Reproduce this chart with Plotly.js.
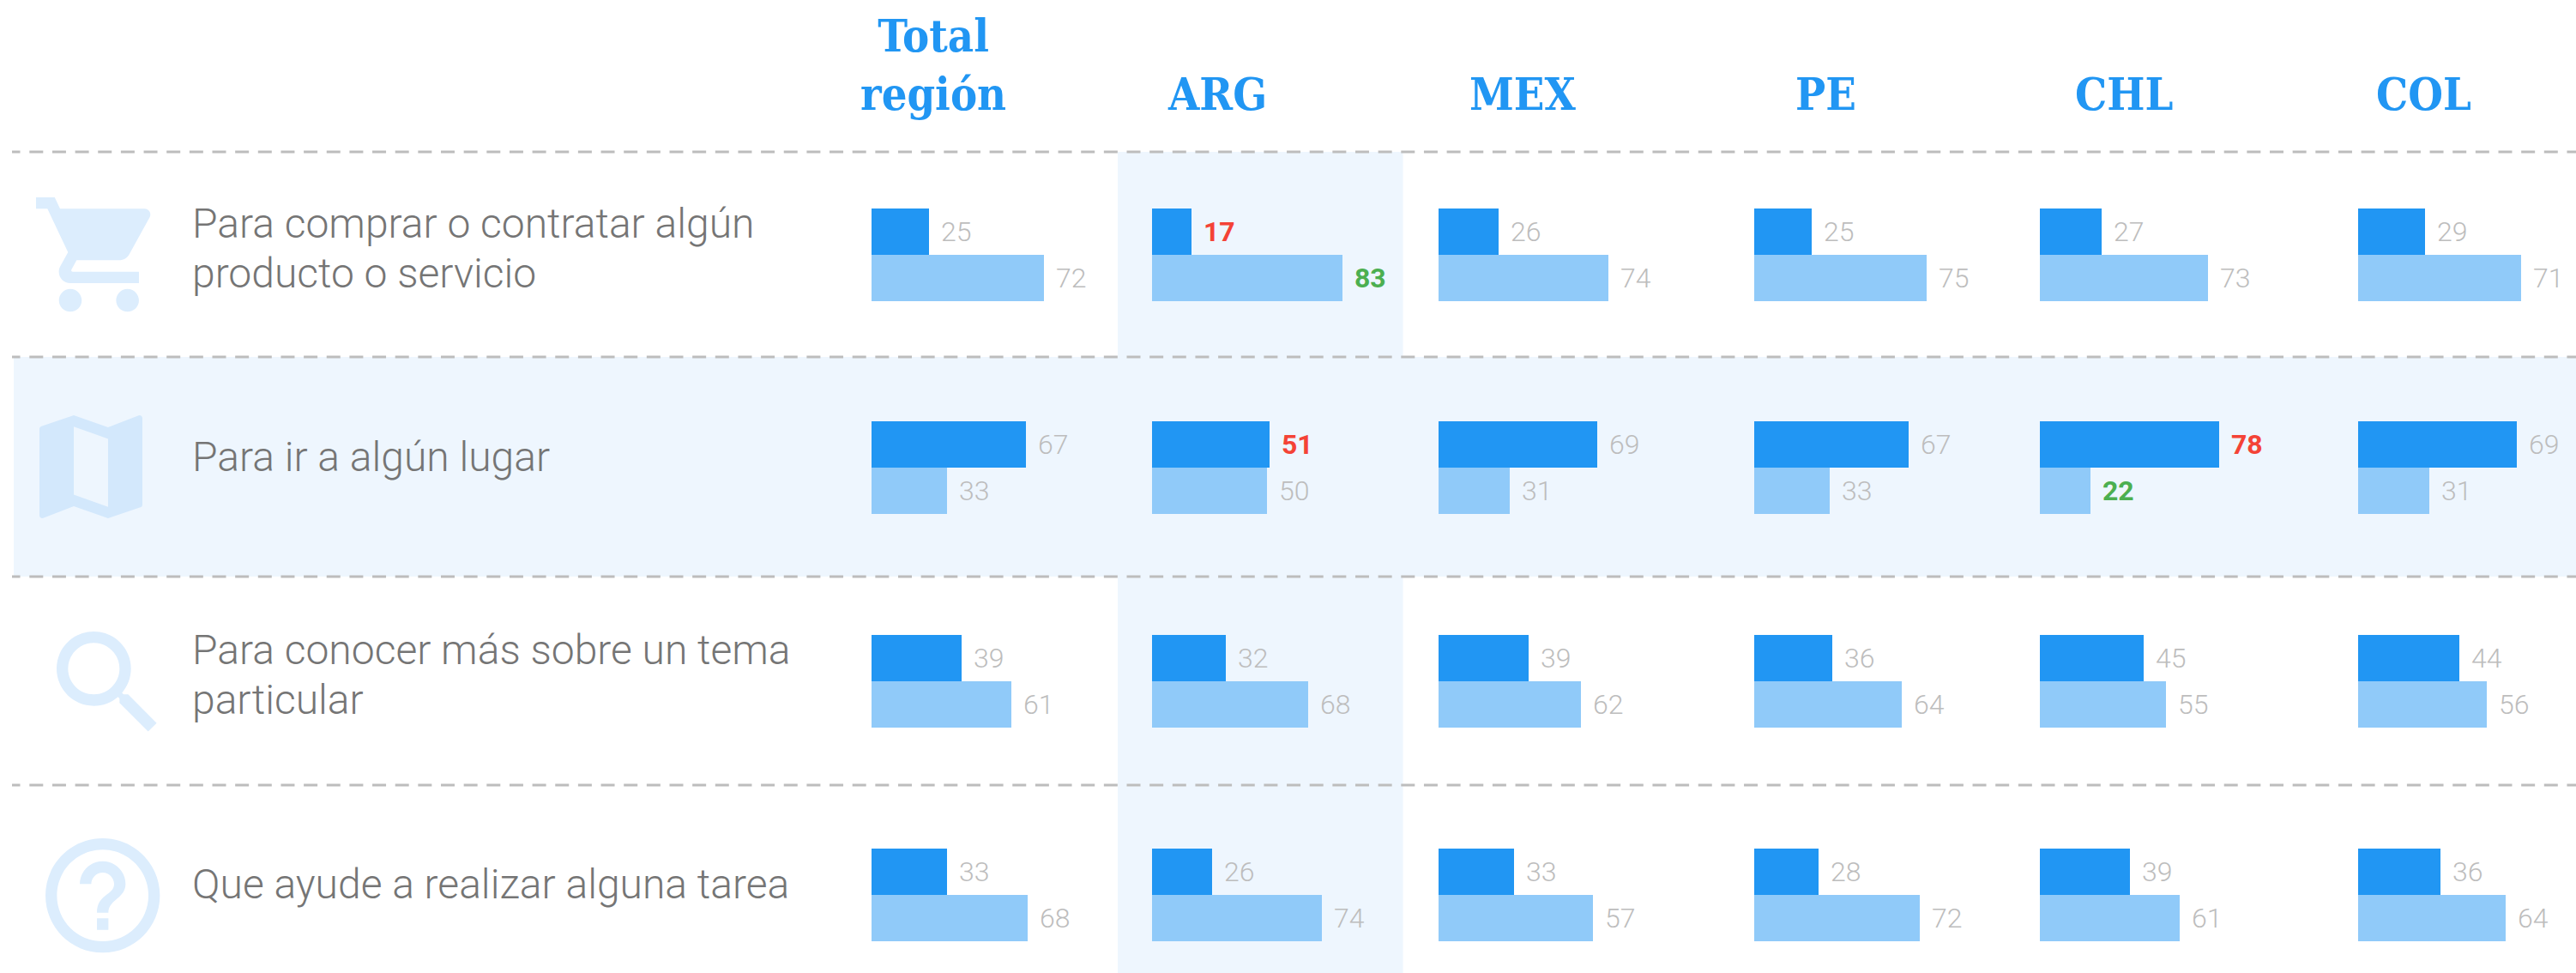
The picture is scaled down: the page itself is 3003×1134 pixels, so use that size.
<!DOCTYPE html>
<html>
<head>
<meta charset="utf-8">
<script src="https://cdn.plot.ly/plotly-3.0.1.min.js"></script>
<style>html,body{margin:0;padding:0;background:#fff}#chart{width:3003px;height:1134px}</style>
</head>
<body>
<div id="chart"></div>
<script>
// ---- data ----
const columns = ["Total<br>región", "ARG", "MEX", "PE", "CHL", "COL"];
const rowLabels = [
  ["Para comprar o contratar algún", "producto o servicio"],
  ["Para ir a algún lugar"],
  ["Para conocer más sobre un tema", "particular"],
  ["Que ayude a realizar alguna tarea"]
];
// printed numbers
const darkLabels = [
  [25, 17, 26, 25, 27, 29],
  [67, 51, 69, 67, 78, 69],
  [39, 32, 39, 36, 45, 44],
  [33, 26, 33, 28, 39, 36]
];
const lightLabels = [
  [72, 83, 74, 75, 73, 71],
  [33, 50, 31, 33, 22, 31],
  [61, 68, 62, 64, 55, 56],
  [68, 74, 57, 72, 61, 64]
];
// bar lengths as drawn in the picture (a few differ from the printed number)
const darkBars = [
  [25, 17, 26, 25, 27, 29],
  [67, 51, 69, 67, 78, 69],
  [39, 32, 39, 34, 45, 44],
  [33, 26, 33, 28, 39, 36]
];
const lightBars = [
  [75, 83, 74, 75, 73, 71],
  [33, 50, 31, 33, 22, 31],
  [61, 68, 62, 64, 55, 56],
  [68, 74, 67, 72, 61, 64]
];
// [row, column] of the emphasised numbers
const redCells = [[0, 1], [1, 1], [1, 4]];
const greenCells = [[0, 1], [1, 4]];

// ---- page geometry ----
const W = 3003, H = 1134;
const colX = [1016, 1343, 1677, 2045, 2378, 2749];
const colCenter = [1087.5, 1419, 1775, 2128, 2476, 2825];
const rowTop = [243, 491, 740, 989];
const BAR_PX = 54, UNIT_PX = 2.68, X_MAX = 90;
const lineY = [177, 416, 672, 915];
const textY = [[260, 318], [532], [757, 815], [1030]];
const C = {dark: "#2196f3", light: "#90caf9", band: "#eef6fe", grey: "#bdbdbd", text: "#757575", red: "#f44336", green: "#4caf50"};
const px = v => v / W, py = v => 1 - v / H;
const has = (list, r, c) => list.some(p => p[0] === r && p[1] === c);

const icons = [
  {x: 35.3, y: 216.7, s: 160, color: "#dcedfd", d: "M7 18c-1.1 0-1.99.9-1.99 2S5.9 22 7 22s2-.9 2-2-.9-2-2-2zM1 2v2h2l3.6 7.59-1.35 2.45c-.16.28-.25.61-.25.96 0 1.1.9 2 2 2h12v-2H7.42c-.14 0-.25-.11-.25-.25l.03-.12.9-1.63h7.45c.75 0 1.41-.41 1.75-1.03l3.58-6.49c.08-.14.12-.31.12-.48 0-.55-.45-1-1-1H5.21l-.94-2H1zm16 16c-1.1 0-1.99.9-1.99 2s.89 2 1.99 2 2-.9 2-2-.9-2-2-2z"},
  {x: 26, y: 464, s: 160, color: "#d3e8fc", d: "M20.5 3l-.16.03L15 5.1 9 3 3.36 4.9c-.21.07-.36.25-.36.48V20.5c0 .28.22.5.5.5l.16-.03L9 18.9l6 2.1 5.64-1.9c.21-.07.36-.25.36-.48V3.5c0-.28-.22-.5-.5-.5zM15 19l-6-2.11V5l6 2.11V19z"},
  {x: 46, y: 716, s: 160, color: "#dcedfd", d: "M15.5 14h-.79l-.28-.27C15.41 12.59 16 11.11 16 9.5 16 5.91 13.09 3 9.5 3S3 5.91 3 9.5 5.91 16 9.5 16c1.61 0 3.09-.59 4.23-1.57l.27.28v.79l5 4.99L20.49 19l-4.99-5zm-6 0C7.01 14 5 11.99 5 9.5S7.01 5 9.5 5 14 7.01 14 9.5 11.99 14 9.5 14z"},
  {x: 39.7, y: 963.7, s: 160, color: "#dcedfd", d: "M11 18h2v-2h-2v2zm1-16C6.48 2 2 6.48 2 12s4.48 10 10 10 10-4.48 10-10S17.52 2 12 2zm0 18c-4.41 0-8-3.59-8-8s3.59-8 8-8 8 3.59 8 8-3.59 8-8 8zm0-14c-2.21 0-4 1.79-4 4h2c0-1.1.9-2 2-2s2 .9 2 2c0 2-3 1.75-3 5h2c0-2.25 3-2.5 3-5 0-2.21-1.79-4-4-4z"}
];

// ---- build ----
const axisBase = {visible: false, fixedrange: true, showgrid: false, zeroline: false};
const layout = {
  width: W, height: H, margin: {l: 0, r: 0, t: 0, b: 0},
  paper_bgcolor: "#ffffff", plot_bgcolor: "rgba(0,0,0,0)",
  showlegend: false, hovermode: false, bargap: 0,
  annotations: [], shapes: [], images: []
};
colX.forEach((x, c) => {
  layout["xaxis" + (c ? c + 1 : "")] = Object.assign({}, axisBase, {
    domain: [px(x), px(x + X_MAX * UNIT_PX)], range: [0, X_MAX]
  });
});
rowTop.forEach((t, r) => {
  layout["yaxis" + (r ? r + 1 : "")] = Object.assign({}, axisBase, {
    domain: [py(t + 2 * BAR_PX), py(t)], range: [1.5, -0.5]
  });
});

const traces = [];
function numberLabel(value, pos, xa, ya, color, bold) {
  layout.annotations.push({
    xref: xa, yref: ya, x: pos.x, y: pos.y, text: String(value),
    xanchor: "left", yanchor: "middle", xshift: 12, showarrow: false,
    font: {family: "Roboto, sans-serif", size: 32, color: color, weight: bold ? 700 : 300}
  });
}
rowTop.forEach((_, r) => {
  columns.forEach((_, c) => {
    const xa = "x" + (c ? c + 1 : ""), ya = "y" + (r ? r + 1 : "");
    traces.push({
      type: "bar", orientation: "h", xaxis: xa, yaxis: ya,
      y: [0, 1], x: [darkBars[r][c], lightBars[r][c]], width: 1,
      marker: {color: [C.dark, C.light], line: {width: 0}},
      hoverinfo: "skip"
    });
    const red = has(redCells, r, c), green = has(greenCells, r, c);
    numberLabel(darkLabels[r][c], {x: darkBars[r][c], y: 0}, xa, ya, red ? C.red : C.grey, red);
    numberLabel(lightLabels[r][c], {x: lightBars[r][c], y: 1}, xa, ya, green ? C.green : C.grey, green);
  });
});

// bands (below everything)
const rect = (x0, x1, y0, y1) => ({
  type: "rect", xref: "paper", yref: "paper", layer: "below",
  x0: px(x0), x1: px(x1), y0: py(y0), y1: py(y1),
  fillcolor: C.band, line: {width: 0}
});
layout.shapes.push(rect(1303, 1635.5, lineY[0], H));
layout.shapes.push(rect(16, W, lineY[1], lineY[2]));
// dashed rules
lineY.forEach(y => {
  const seg = (a, b, dash) => ({
    type: "line", xref: "paper", yref: "paper", layer: "below",
    x0: px(a), x1: px(b), y0: py(y), y1: py(y),
    line: {color: C.grey, width: 3, dash: dash}
  });
  layout.shapes.push(seg(14, 23.5, "solid"));
  layout.shapes.push(seg(34.3, W, "16px,10.65px"));
});

// column headers
columns.forEach((name, c) => {
  layout.annotations.push({
    xref: "paper", yref: "paper", x: px(colCenter[c]), y: py(142), yanchor: "bottom",
    xanchor: "center", align: "center", showarrow: false, text: "<b>" + name + "</b>",
    font: {family: "'DejaVu Serif Condensed', 'DejaVu Serif', serif", size: 52, color: C.dark}
  });
});

// row captions
rowLabels.forEach((lines, r) => {
  lines.forEach((line, i) => {
    layout.annotations.push({
      xref: "paper", yref: "paper", x: px(222), y: py(textY[r][i]),
      xanchor: "left", yanchor: "middle", showarrow: false, text: line,
      font: {family: "Roboto, sans-serif", size: 48, color: C.text, weight: 300}
    });
  });
});

// row icons
icons.forEach(ic => {
  const svg = '<svg xmlns="http://www.w3.org/2000/svg" width="320" height="320" viewBox="0 0 24 24"><path fill="' + ic.color + '" d="' + ic.d + '"/></svg>';
  layout.images.push({
    source: "data:image/svg+xml;charset=utf-8," + encodeURIComponent(svg),
    xref: "paper", yref: "paper", x: px(ic.x), y: py(ic.y),
    sizex: ic.s / W, sizey: ic.s / H, xanchor: "left", yanchor: "top",
    sizing: "stretch", layer: "above"
  });
});

Plotly.newPlot("chart", traces, layout, {displayModeBar: false, staticPlot: true});
</script>
</body>
</html>
